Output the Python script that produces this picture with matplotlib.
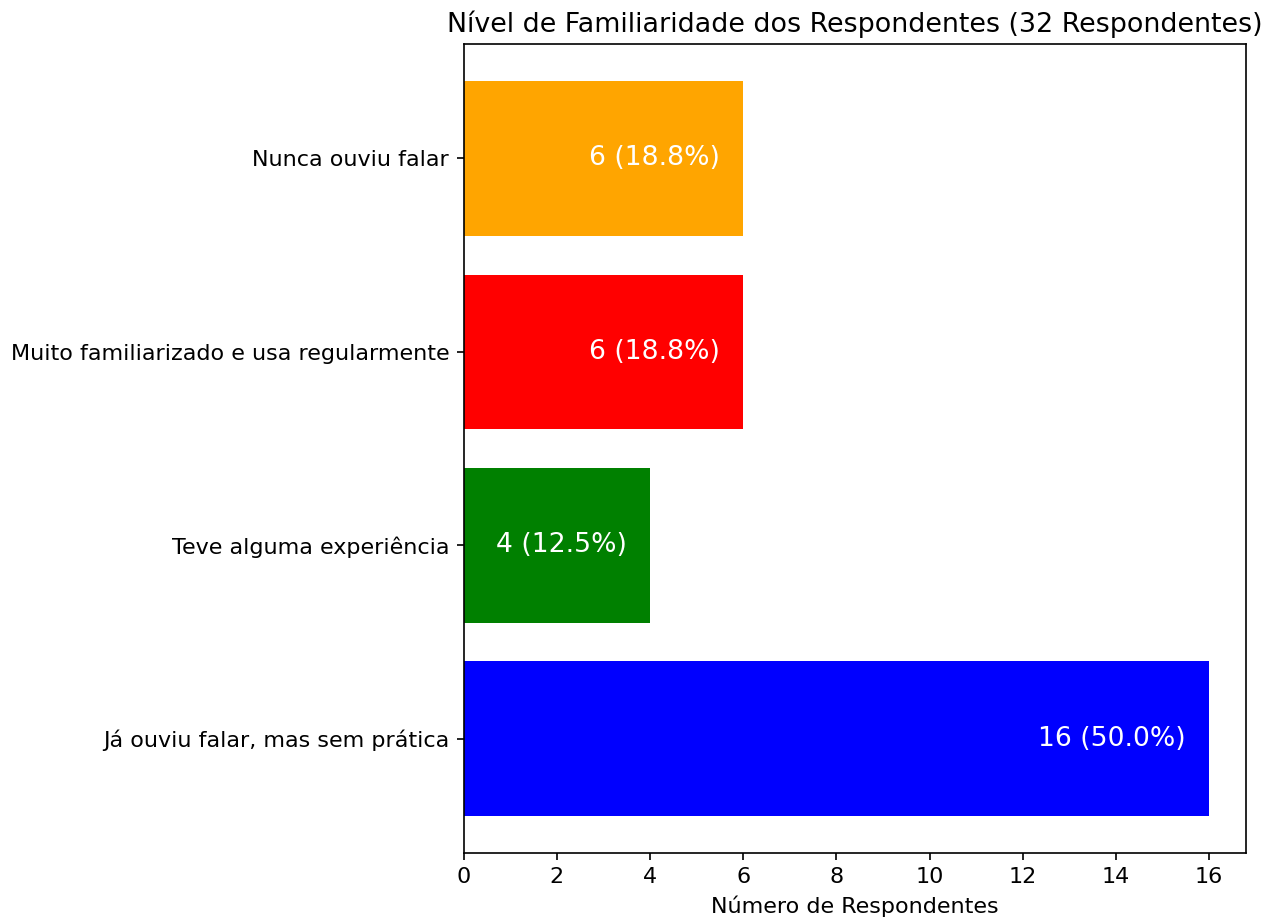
import matplotlib
matplotlib.use("Agg")
import matplotlib.pyplot as plt

categorias = ["Já ouviu falar, mas sem prática", "Teve alguma experiência",
              "Muito familiarizado e usa regularmente", "Nunca ouviu falar"]
contagens = [16, 4, 6, 6]
cores = ["blue", "green", "red", "orange"]
total = 32

fig = plt.figure(figsize=(12.81 / 1.5, 9.24 / 1.5), dpi=150)
ax = fig.add_axes([0.362, 0.077, 0.611, 0.875])

barras = ax.barh(categorias, contagens, color=cores)
for b, c in zip(barras, contagens):
    pct = c / total * 100
    ax.text(b.get_width() - 0.5, b.get_y() + b.get_height() / 2,
            f"{c} ({pct:.1f}%)", ha="right", va="center",
            color="white", fontsize=12.8)

ax.set_xlabel("Número de Respondentes", fontsize=10.7)
ax.set_title(f"Nível de Familiaridade dos Respondentes ({total} Respondentes)", fontsize=12.9)
ax.tick_params(labelsize=10.7)

fig.savefig("out.png", dpi=150)
